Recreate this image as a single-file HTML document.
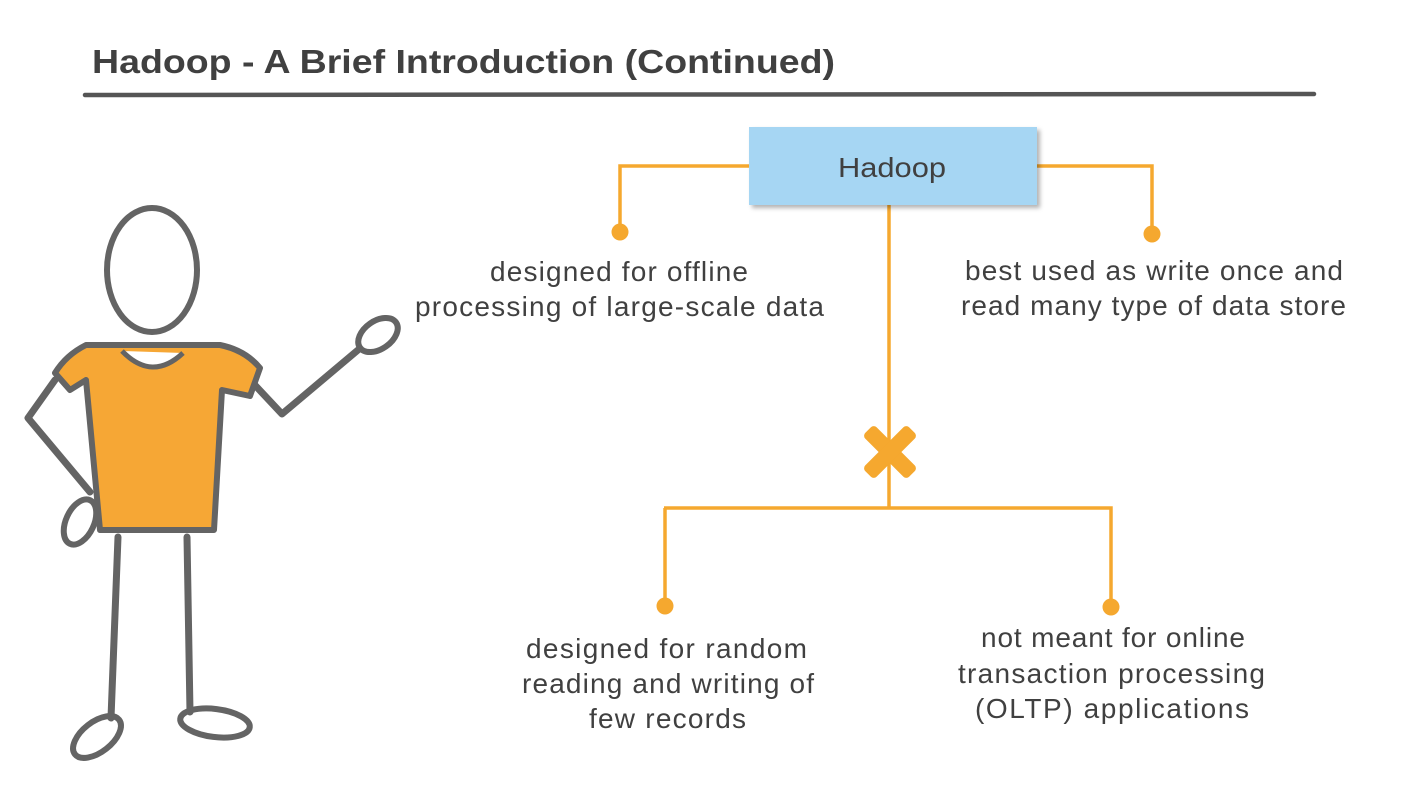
<!DOCTYPE html>
<html><head><meta charset="utf-8"><style>
html,body{margin:0;padding:0;background:#fff;}
svg{display:block;}
text{font-family:"Liberation Sans",sans-serif;fill:#404040;}
</style></head><body>
<svg width="1406" height="790" viewBox="0 0 1406 790" xmlns="http://www.w3.org/2000/svg">
<defs>
<filter id="sh" x="-5%" y="-10%" width="115%" height="130%"><feDropShadow dx="3" dy="3" stdDeviation="2" flood-color="#000" flood-opacity="0.3"/></filter>
</defs>
<text x="92" y="73" font-size="33" font-weight="bold" textLength="743" lengthAdjust="spacingAndGlyphs">Hadoop - A Brief Introduction (Continued)</text>
<path d="M85 95 L1314 94" stroke="#555" stroke-width="4.5" stroke-linecap="round"/>

<g stroke="#f5a82f" stroke-width="3.5" fill="none">
<path d="M749 166 H620 V232"/>
<path d="M1037 166 H1152 V234"/>
<path d="M889 205 V508"/>
<path d="M664 508 H1111 V607"/>
<path d="M665 508 V606"/>
</g>
<g fill="#f5a82f">
<circle cx="620" cy="232" r="8.5"/>
<circle cx="1152" cy="234" r="8.5"/>
<circle cx="665" cy="606" r="8.5"/>
<circle cx="1111" cy="607" r="8.5"/>
<g transform="translate(890 452) rotate(45)" >
<rect x="-31" y="-8" width="62" height="16" rx="4"/>
<rect x="-8" y="-31" width="16" height="62" rx="4"/>
</g>
</g>

<rect x="749" y="127" width="288" height="78" fill="#a6d6f3" filter="url(#sh)"/>
<text x="838" y="177" font-size="28" textLength="108" lengthAdjust="spacingAndGlyphs">Hadoop</text>

<g font-size="28" lengthAdjust="spacingAndGlyphs">
<text x="490" y="281" textLength="258">designed for offline</text>
<text x="415" y="316" textLength="409">processing of large-scale data</text>
<text x="965" y="280" textLength="378">best used as write once and</text>
<text x="961" y="315" textLength="385">read many type of data store</text>
<text x="526" y="658" textLength="281">designed for random</text>
<text x="522" y="693" textLength="292">reading and writing of</text>
<text x="589" y="728" textLength="157">few records</text>
<text x="981" y="647" textLength="264">not meant for online</text>
<text x="958" y="683" textLength="307">transaction processing</text>
<text x="975" y="718" textLength="274">(OLTP) applications</text>
</g>

<!-- stick figure -->
<g stroke="#646464" stroke-width="7" fill="none" stroke-linecap="round" stroke-linejoin="round">
<ellipse cx="152" cy="270" rx="45" ry="62" stroke-width="6"/>
<path d="M55 380 L28 418 L90 492"/>
<path d="M252 382 L282 414 L358 350"/>
<ellipse cx="378" cy="335" rx="22" ry="14" transform="rotate(-35 378 335)" stroke-width="6"/>
<ellipse cx="80" cy="522" rx="14" ry="24" transform="rotate(25 80 522)" stroke-width="6"/>
<path d="M118 537 L111 718"/>
<path d="M187 537 L190 712"/>
<ellipse cx="97" cy="737" rx="28" ry="15" transform="rotate(-38 97 737)" stroke-width="6"/>
<ellipse cx="215" cy="723" rx="35" ry="14" transform="rotate(7 215 723)" stroke-width="6"/>
</g>
<path d="M86 345 L220 345 Q245 350 260 368 L250 396 L222 390 L214 530 L100 530 L86 380 L70 390 L55 373 Q66 355 86 345 Z" fill="#f6a735" stroke="#646464" stroke-width="6" stroke-linejoin="round"/>
<path d="M122 351 Q152 382 183 353" fill="#fff" stroke="#646464" stroke-width="5"/>
<path d="M86 380 L88 400 M222 390 L221 410" stroke="#646464" stroke-width="5"/>
</svg>
</body></html>
